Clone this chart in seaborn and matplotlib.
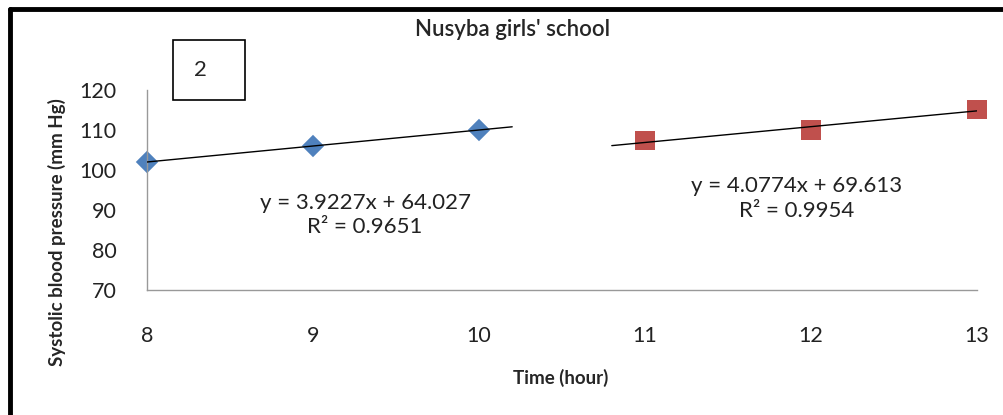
import numpy as np
import pandas as pd
import matplotlib
matplotlib.use("Agg")
import matplotlib.pyplot as plt
from matplotlib.patches import Rectangle
from matplotlib.lines import Line2D
import seaborn as sns

# ---- data ----
hours_am = [8, 9, 10]
sbp_am = [102, 106, 110]
hours_pm = [11, 12, 13]
sbp_pm = [107.3, 110, 115.2]
eq_am = ["y = 3.9227x + 64.027", "R\u00b2 = 0.9651"]
eq_pm = ["y = 4.0774x + 69.613", "R\u00b2 = 0.9954"]
x_ticks = [8, 9, 10, 11, 12, 13]
y_ticks = [70, 80, 90, 100, 110, 120]
title = "Nusyba girls' school"
xlabel = "Time (hour)"
ylabel = "Systolic blood pressure (mm Hg)"
panel_label = "2"
forward_am = 0.2
backward_pm = 0.2

sns.set_theme(style="white")
plt.rcParams['font.family'] = ['Lato', 'DejaVu Sans']

W, H = 1004, 415
fig = plt.figure(figsize=(W / 100, H / 100), dpi=100)
ax = fig.add_axes([147 / W, 1 - 290 / H, (977 - 147) / W, 200 / H])

df_am = pd.DataFrame({"x": hours_am, "y": sbp_am})
df_pm = pd.DataFrame({"x": hours_pm, "y": sbp_pm})

# trend lines
c1 = np.polyfit(hours_am, sbp_am, 1)
c2 = np.polyfit(hours_pm, sbp_pm, 1)
tx1 = np.array([hours_am[0], hours_am[-1] + forward_am])
tx2 = np.array([hours_pm[0] - backward_pm, hours_pm[-1]])
sns.lineplot(x=tx1, y=np.polyval(c1, tx1), ax=ax, color="black", lw=1.0, zorder=3)
sns.lineplot(x=tx2, y=np.polyval(c2, tx2), ax=ax, color="black", lw=1.0, zorder=3)

sns.scatterplot(data=df_am, x="x", y="y", ax=ax, marker="D", s=130,
                color="#4F81BD", edgecolor="none", zorder=2, clip_on=False)
sns.scatterplot(data=df_pm, x="x", y="y", ax=ax, marker="s", s=190,
                color="#C0504D", edgecolor="none", zorder=2, clip_on=False)

ax.set_xlim(8, 13)
ax.set_ylim(70, 120)
ax.set_xticks(x_ticks)
ax.set_yticks(y_ticks)
ax.tick_params(axis="x", length=0, pad=26, labelsize=15.5, colors="#222222")
ax.tick_params(axis="y", length=0, pad=22, labelsize=15.5, colors="#222222")
for s in ["top", "right"]:
    ax.spines[s].set_visible(False)
for s in ["left", "bottom"]:
    ax.spines[s].set_color("#999999")
    ax.spines[s].set_linewidth(1.0)
ax.set_xlabel("")
ax.set_ylabel("")

# equations
ax.text(0.2627, 0.375, eq_am[0] + "\n" + eq_am[1], transform=ax.transAxes,
        ha="center", va="center", fontsize=16, color="#222222", linespacing=1.3)
ax.text(0.783, 0.4575, eq_pm[0] + "\n" + eq_pm[1], transform=ax.transAxes,
        ha="center", va="center", fontsize=16, color="#222222", linespacing=1.3)

# titles and labels
fig.text(513 / W, 1 - 30 / H, title, ha="center", va="center", fontsize=16,
         fontweight="semibold")
fig.text(561 / W, 1 - 378 / H, xlabel, ha="center", va="center",
         fontsize=13.5, fontweight="bold")
fig.text(57 / W, 1 - 232 / H, ylabel, ha="center", va="center", rotation=90,
         fontsize=13.5, fontweight="bold")

# panel label box
fig.patches.append(Rectangle((173 / W, 1 - 100 / H), 72 / W, 60 / H,
                             transform=fig.transFigure, fill=False,
                             edgecolor="black", lw=1.2))
fig.text(200 / W, 1 - 70 / H, panel_label, ha="center", va="center", fontsize=16)

# outer frame (top and left)
fig.lines.append(Line2D([10 / W, 1.0], [1 - 9.5 / H, 1 - 9.5 / H],
                        transform=fig.transFigure, color="black", lw=3.5))
fig.lines.append(Line2D([10.5 / W, 10.5 / W], [0, 1 - 9.5 / H],
                        transform=fig.transFigure, color="black", lw=3.5))

fig.savefig("out.png", dpi=100)
